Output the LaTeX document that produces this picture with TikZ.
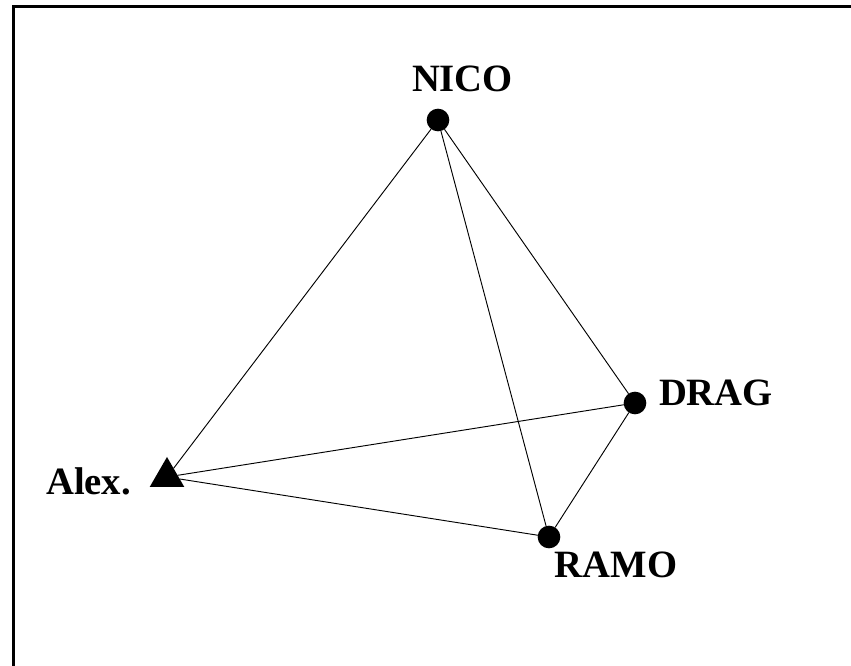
\documentclass[tikz,border=0pt]{standalone}
\usepackage{fontspec}
\setmainfont{Liberation Serif}
\usetikzlibrary{shapes.geometric}

\begin{document}
\begin{tikzpicture}[x=0.75pt,y=-0.75pt,
    every node/.style={inner sep=0pt,outer sep=0pt},
    actor/.style={circle,fill=black,minimum size=17pt},
    ego/.style={regular polygon,regular polygon sides=3,fill=black,minimum size=30pt},
    actorlabel/.style={anchor=base,font=\fontsize{29}{33}\selectfont\bfseries},
    tie/.style={line width=0.7pt}]
    \useasboundingbox (0,0) rectangle (851,666);
    % Rahmen
    \draw[line width=2.25pt] (13,666) -- (13,6.5) -- (851,6.5);
    % Akteure
    \node[actor] (nico) at (438,120) {};
    \node[actor] (drag) at (635,403) {};
    \node[actor] (ramo) at (549,537) {};
    \node[ego] (alex) at (167,477) {};
    % Namen
    \node[actorlabel] (nico-l) at (462.5,92) {NICO};
    \node[actorlabel] (drag-l) at (716,406) {DRAG};
    \node[actorlabel] (alex-l) at (88.5,495) {Alex.};
    \node[actorlabel] (ramo-l) at (616,578) {RAMO};
    % Beziehungen
    \draw[tie] (nico) -- (alex);
    \draw[tie] (nico) -- (ramo);
    \draw[tie] (nico) -- (drag);
    \draw[tie] (drag) -- (alex);
    \draw[tie] (drag) -- (ramo);
    \draw[tie] (alex) -- (ramo);
\end{tikzpicture}
\end{document}
